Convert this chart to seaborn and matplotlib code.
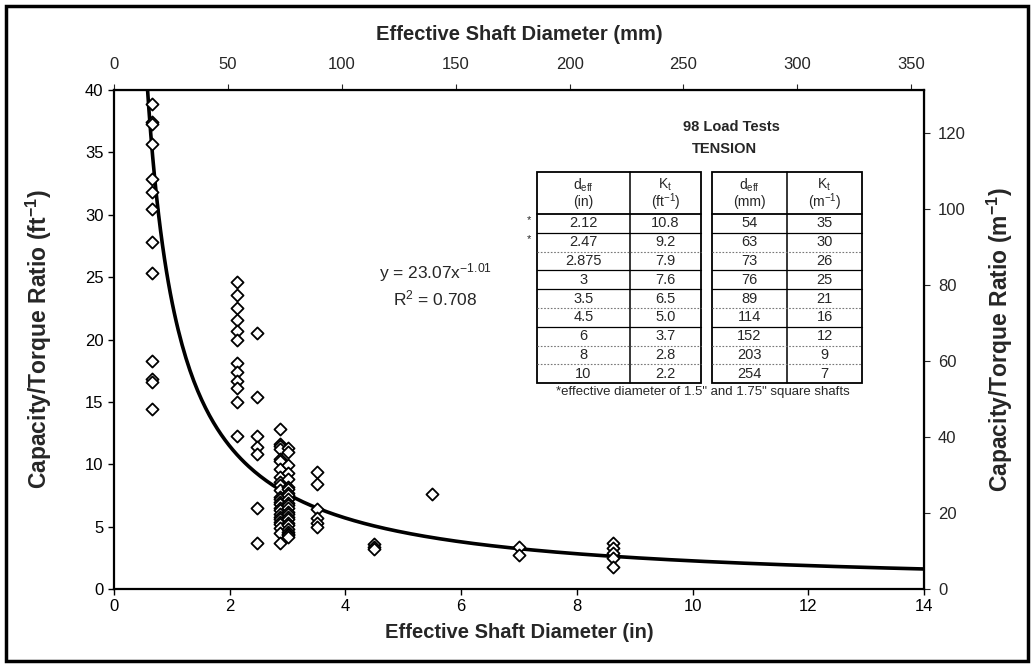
import numpy as np
import pandas as pd
import matplotlib
matplotlib.use("Agg")
import matplotlib.pyplot as plt
from matplotlib.patches import Rectangle
from matplotlib.lines import Line2D
import seaborn as sns

# ---- load test data: effective shaft diameter (in) and capacity/torque ratio (ft^-1)
diam_groups = [0.65, 2.12, 2.47, 2.875, 3.0, 3.5, 4.5, 5.5, 7.0, 8.625]
ratio_groups = [
    [38.9, 37.4, 37.3, 35.7, 32.9, 31.8, 30.5, 27.8, 25.3, 18.3, 16.8, 16.6, 14.4],
    [24.6, 23.6, 22.5, 21.6, 20.7, 20.0, 18.1, 17.4, 16.7, 16.1, 15.0, 12.3],
    [20.5, 15.4, 12.3, 11.4, 10.8, 6.5, 3.7],
    [12.8, 11.6, 11.5, 11.2, 10.4, 10.3, 9.6, 9.0, 8.6, 8.3, 7.9, 7.4, 7.2,
     7.0, 6.8, 6.5, 6.3, 6.0, 5.8, 5.6, 5.4, 5.2, 4.9, 4.5, 3.7],
    [11.3, 11.0, 9.9, 9.3, 8.8, 8.2, 8.0, 7.7, 7.5, 7.2, 6.9, 6.7, 6.5, 6.2,
     6.0, 5.8, 5.6, 5.3, 5.1, 4.8, 4.6, 4.4, 4.3, 4.2],
    [9.4, 8.45, 6.4, 5.7, 5.3, 5.0],
    [3.6, 3.4, 3.2],
    [7.6],
    [3.4, 2.7],
    [3.7, 3.3, 2.9, 2.5, 1.8],
]

# ---- power-law fit
fit_coef = 23.07
fit_exp = -1.01
fit_r2 = 0.708

# ---- inset table of recommended Kt values
tbl_in = ["2.12", "2.47", "2.875", "3", "3.5", "4.5", "6", "8", "10"]
tbl_kt_ft = ["10.8", "9.2", "7.9", "7.6", "6.5", "5.0", "3.7", "2.8", "2.2"]
tbl_mm = ["54", "63", "73", "76", "89", "114", "152", "203", "254"]
tbl_kt_m = ["35", "30", "26", "25", "21", "16", "12", "9", "7"]

x_ticks = [0, 2, 4, 6, 8, 10, 12, 14]
y_ticks = [0, 5, 10, 15, 20, 25, 30, 35, 40]
mm_ticks = [0, 50, 100, 150, 200, 250, 300, 350]
m_ticks = [0, 20, 40, 60, 80, 100, 120]

IN_TO_MM = 25.4
FT_TO_M = 3.2808

df = pd.DataFrame({
    "diameter": np.concatenate([[d] * len(r) for d, r in zip(diam_groups, ratio_groups)]),
    "ratio": np.concatenate([np.asarray(r, float) for r in ratio_groups]),
})
xc = np.linspace(0.5, 14, 400)
curve = pd.DataFrame({"diameter": xc, "ratio": fit_coef * xc ** fit_exp})

sns.set_style("ticks")
plt.rcParams["font.family"] = ["Liberation Sans", "DejaVu Sans"]
plt.rcParams["mathtext.fontset"] = "custom"
plt.rcParams["mathtext.rm"] = "Liberation Sans"
plt.rcParams["mathtext.it"] = "Liberation Sans:italic"
plt.rcParams["mathtext.bf"] = "Liberation Sans:bold"

W, H = 1033, 666
fig = plt.figure(figsize=(W / 100, H / 100), dpi=100)
fig.patch.set_facecolor("white")


def fx(px):
    return px / W


def fy(py):
    return 1 - py / H


ax = fig.add_axes([fx(114), fy(589), fx(924) - fx(114), fy(90) - fy(589)])

sns.lineplot(data=curve, x="diameter", y="ratio", ax=ax, color="black",
             linewidth=2.6, zorder=2)
sns.scatterplot(data=df, x="diameter", y="ratio", ax=ax, marker="D", s=38,
                color="white", edgecolor="black", linewidth=1.3, zorder=3)

ax.set_xlim(0, 14)
ax.set_ylim(0, 40)
ax.set_xticks(x_ticks)
ax.set_yticks(y_ticks)
for s in ax.spines.values():
    s.set_visible(True)
    s.set_color("black")
    s.set_linewidth(1.6)
ax.tick_params(axis="both", direction="out", length=4, width=1, labelsize=12,
               colors="black")
ax.set_xlabel("Effective Shaft Diameter (in)", fontsize=14.5, fontweight="bold",
              labelpad=6)
ax.set_ylabel(r"Capacity/Torque Ratio (ft$^{\mathbf{-1}}$)", fontsize=16.5,
              fontweight="bold", labelpad=22)

top = ax.secondary_xaxis("top", functions=(lambda x: x * IN_TO_MM, lambda x: x / IN_TO_MM))
top.set_xticks(mm_ticks)
top.tick_params(direction="out", length=4, labelsize=12, pad=9)
top.set_xlabel("Effective Shaft Diameter (mm)", fontsize=14.5, fontweight="bold",
               labelpad=12)

right = ax.secondary_yaxis("right", functions=(lambda y: y * FT_TO_M, lambda y: y / FT_TO_M))
right.set_yticks(m_ticks)
right.tick_params(direction="out", length=4, labelsize=12, pad=6)
right.set_ylabel(r"Capacity/Torque Ratio (m$^{\mathbf{-1}}$)", fontsize=16.5,
                 fontweight="bold", labelpad=14)

# fit equation
ax.text(5.55, 25.4, r"y = 23.07x$^{-1.01}$", fontsize=12.5, ha="center", va="center")
ax.text(5.55, 23.3, f"R$^2$ = {fit_r2}", fontsize=12.5, ha="center", va="center")

# ---- inset table drawn in figure coordinates
fig.text(fx(731), fy(127), "98 Load Tests", fontsize=10.5, fontweight="bold",
         ha="center", va="center")
fig.text(fx(724), fy(149), "TENSION", fontsize=10.5, fontweight="bold",
         ha="center", va="center")

t_top, t_head, row_h = 172, 214, 18.8
n_rows = len(tbl_in)
t_bot = t_head + n_rows * row_h
tables = [
    ((537, 630, 701), (r"d$_{\mathrm{eff}}$", "(in)"), (r"K$_{\mathrm{t}}$", r"(ft$^{-1}$)"), tbl_in, tbl_kt_ft),
    ((712, 787, 862), (r"d$_{\mathrm{eff}}$", "(mm)"), (r"K$_{\mathrm{t}}$", r"(m$^{-1}$)"), tbl_mm, tbl_kt_m),
]
solid_after = {1, 3, 4, 6}
for (x0, x1, x2), h1, h2, c1, c2 in tables:
    fig.patches.append(Rectangle((fx(x0), fy(t_bot)), fx(x2) - fx(x0), fy(t_top) - fy(t_bot),
                                 transform=fig.transFigure, fill=False, lw=1.3,
                                 edgecolor="black"))
    fig.lines.append(Line2D([fx(x1), fx(x1)], [fy(t_top), fy(t_bot)],
                            transform=fig.transFigure, color="black", lw=1.1))
    fig.lines.append(Line2D([fx(x0), fx(x2)], [fy(t_head), fy(t_head)],
                            transform=fig.transFigure, color="black", lw=1.3))
    for i in range(1, n_rows):
        yy = t_head + i * row_h
        if i in solid_after:
            fig.lines.append(Line2D([fx(x0), fx(x2)], [fy(yy), fy(yy)],
                                    transform=fig.transFigure, color="black", lw=0.9))
        else:
            fig.lines.append(Line2D([fx(x0), fx(x2)], [fy(yy), fy(yy)],
                                    transform=fig.transFigure, color="#777777", lw=0.8,
                                    linestyle=(0, (1.5, 1.5))))
    for xc_, (a, b) in (((x0 + x1) / 2, h1), ((x1 + x2) / 2, h2)):
        fig.text(fx(xc_), fy(185), a, fontsize=10, ha="center", va="center")
        fig.text(fx(xc_), fy(202), b, fontsize=10, ha="center", va="center")
    for i in range(n_rows):
        yy = t_head + (i + 0.5) * row_h
        fig.text(fx((x0 + x1) / 2), fy(yy), c1[i], fontsize=10.5, ha="center", va="center")
        fig.text(fx((x1 + x2) / 2), fy(yy), c2[i], fontsize=10.5, ha="center", va="center")

for i in (0, 1):
    fig.text(fx(529), fy(t_head + (i + 0.5) * row_h - 3), "*", fontsize=8,
             ha="center", va="center")
fig.text(fx(556), fy(392), "*effective diameter of 1.5\" and 1.75\" square shafts",
         fontsize=9.5, ha="left", va="center")

# outer frame
fig.patches.append(Rectangle((fx(6), fy(661)), fx(1028) - fx(6), fy(6) - fy(661),
                             transform=fig.transFigure, fill=False, lw=2.5,
                             edgecolor="black"))

fig.savefig("out.png", dpi=100, facecolor="white")
